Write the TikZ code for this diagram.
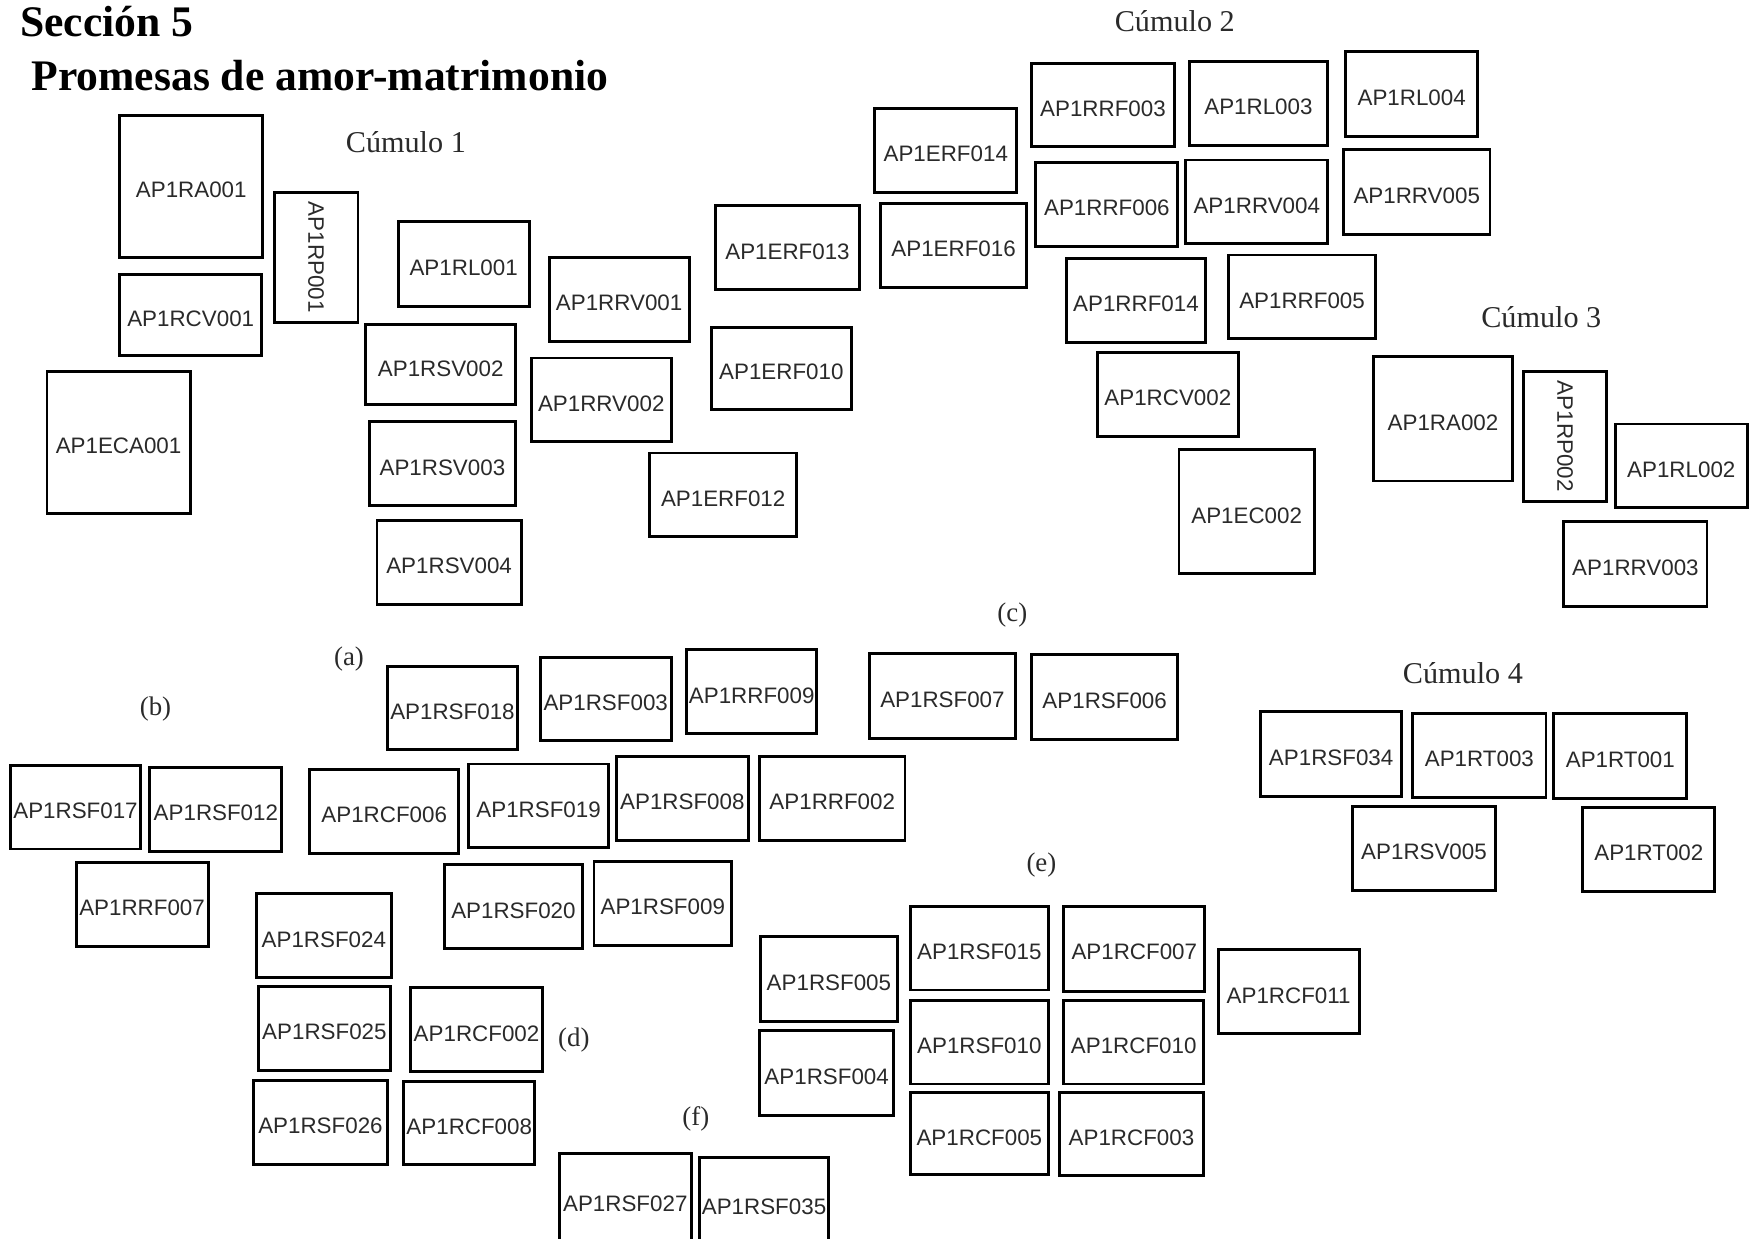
\documentclass[tikz,border=0pt]{standalone}
\usepackage{fontspec}
\usepackage{graphicx}
\setmainfont{Liberation Serif}
\newfontfamily\boxfont{Liberation Sans}
\definecolor{inkgray}{HTML}{2A2A2A}
\tikzset{
  cell/.style={draw=black, line width=2.6pt, inner sep=0pt, text=inkgray,
    font=\boxfont\fontsize{20}{22}\selectfont,
    text height=20.3pt, text depth=0pt},
  headline/.style={font=\bfseries\fontsize{39}{42}\selectfont, inner sep=0pt},
  clustername/.style={font=\fontsize{27}{30}\selectfont, text=inkgray, inner sep=0pt},
  panel/.style={font=\fontsize{24}{26}\selectfont, text=inkgray, inner sep=0pt}
}
% \cellbox{name}{x1}{y1}{x2}{y2}{label}: a labelled rectangle given by its corners
\newcommand\cellbox[6]{%
  \node[cell, minimum width={#4-#2}, minimum height={#5-#3}]
    (#1) at ({(#2+#4)/2},{(#3+#5)/2}) {#6};}
% same, with the label turned to read downwards
\newcommand\cellboxdown[6]{%
  \node[cell, text height=, text depth=, minimum width={#4-#2}, minimum height={#5-#3}]
    (#1) at ({(#2+#4)/2},{(#3+#5)/2}) {\rotatebox{-90}{#6}};}
\begin{document}
\begin{tikzpicture}[x=1pt, y=-1pt]
\useasboundingbox (0,0) rectangle (1568,1107);
\clip (0,0) rectangle (1568,1107);
\fill[white] (0,0) rectangle (1568,1107);

% headings
\node[headline, anchor=base west] (sec) at (18,33) {Sección 5};
\node[headline, anchor=base west] (tema) at (28,81) {Promesas de amor-matrimonio};

% cluster names
\node[clustername, anchor=base west] (c1) at (309,136) {Cúmulo 1};
\node[clustername, anchor=base east] (c2) at (1104,28) {Cúmulo 2};
\node[clustername, anchor=base west] (c3) at (1324,293) {Cúmulo 3};
\node[clustername, anchor=base west] (c4) at (1254,611) {Cúmulo 4};

% panel letters
\node[panel] (pa) at (312,589) {(a)};
\node[panel] (pb) at (139,634) {(b)};
\node[panel] (pc) at (905,550) {(c)};
\node[panel] (pd) at (513,930) {(d)};
\node[panel] (pe) at (931,773) {(e)};
\node[panel] (pf) at (622,1000) {(f)};

% cluster 1
\cellbox{ra1}{107}{103}{235}{230}{AP1RA001}
\cellboxdown{rp1}{245}{172}{320}{288}{AP1RP001}
\cellbox{rcv1}{107}{245}{234}{318}{AP1RCV001}
\cellbox{eca1}{42}{332}{170}{459}{AP1ECA001}
\cellbox{rl1}{356}{198}{473}{274}{AP1RL001}
\cellbox{rsv2}{327}{290}{461}{362}{AP1RSV002}
\cellbox{rsv3}{330}{377}{461}{452}{AP1RSV003}
\cellbox{rsv4}{337}{465}{466}{540}{AP1RSV004}
\cellbox{rrv1}{491}{230}{616}{305}{AP1RRV001}
\cellbox{rrv2}{475}{320}{600}{395}{AP1RRV002}
\cellbox{erf13}{640}{184}{768}{259}{AP1ERF013}
\cellbox{erf10}{636}{293}{761}{366}{AP1ERF010}
\cellbox{erf12}{581}{405}{712}{480}{AP1ERF012}

% cluster 2
\cellbox{erf14}{782}{97}{909}{172}{AP1ERF014}
\cellbox{erf16}{787}{182}{918}{257}{AP1ERF016}
\cellbox{rrf3}{922}{57}{1050}{131}{AP1RRF003}
\cellbox{rl3}{1063}{55}{1187}{130}{AP1RL003}
\cellbox{rl4}{1203}{46}{1321}{122}{AP1RL004}
\cellbox{rrf6}{926}{145}{1053}{220}{AP1RRF006}
\cellbox{rrv4}{1060}{143}{1187}{218}{AP1RRV004}
\cellbox{rrv5}{1201}{134}{1332}{210}{AP1RRV005}
\cellbox{rrf14}{953}{231}{1078}{306}{AP1RRF014}
\cellbox{rrf5}{1098}{228}{1230}{303}{AP1RRF005}
\cellbox{rcv2}{981}{315}{1107}{390}{AP1RCV002}
\cellbox{ec2}{1054}{402}{1175}{513}{AP1EC002}

% cluster 3
\cellbox{ra2}{1228}{319}{1352}{430}{AP1RA002}
\cellboxdown{rp2}{1362}{332}{1436}{448}{AP1RP002}
\cellbox{rl2}{1444}{379}{1562}{454}{AP1RL002}
\cellbox{rrv3}{1398}{466}{1526}{542}{AP1RRV003}

% lower left group
\cellbox{rsf17}{9}{684}{126}{759}{AP1RSF017}
\cellbox{rsf12}{134}{686}{252}{761}{AP1RSF012}
\cellbox{rrf7}{68}{771}{186}{846}{AP1RRF007}

% lower middle group
\cellbox{rsf18}{346}{596}{463}{670}{AP1RSF018}
\cellbox{rsf3}{483}{588}{600}{662}{AP1RSF003}
\cellbox{rrf9}{614}{581}{730}{656}{AP1RRF009}
\cellbox{rcf6}{277}{688}{410}{763}{AP1RCF006}
\cellbox{rsf19}{419}{683}{544}{758}{AP1RSF019}
\cellbox{rsf8}{551}{676}{669}{751}{AP1RSF008}
\cellbox{rrf2}{679}{676}{809}{751}{AP1RRF002}
\cellbox{rsf20}{397}{773}{521}{848}{AP1RSF020}
\cellbox{rsf9}{531}{770}{654}{845}{AP1RSF009}
\cellbox{rsf24}{229}{799}{350}{874}{AP1RSF024}
\cellbox{rsf25}{231}{882}{349}{957}{AP1RSF025}
\cellbox{rcf2}{367}{883}{485}{958}{AP1RCF002}
\cellbox{rsf26}{227}{966}{346}{1041}{AP1RSF026}
\cellbox{rcf8}{361}{967}{478}{1041}{AP1RCF008}

% pair beside (c)
\cellbox{rsf7}{777}{584}{908}{660}{AP1RSF007}
\cellbox{rsf6}{922}{585}{1053}{661}{AP1RSF006}

% cluster 4
\cellbox{rsf34}{1127}{636}{1253}{712}{AP1RSF034}
\cellbox{rt3}{1263}{638}{1382}{713}{AP1RT003}
\cellbox{rt1}{1389}{638}{1508}{714}{AP1RT001}
\cellbox{rsv5}{1209}{721}{1337}{796}{AP1RSV005}
\cellbox{rt2}{1415}{722}{1533}{797}{AP1RT002}

% lower right group
\cellbox{rsf5}{680}{837}{802}{913}{AP1RSF005}
\cellbox{rsf4}{679}{921}{799}{997}{AP1RSF004}
\cellbox{rsf15}{814}{810}{937}{885}{AP1RSF015}
\cellbox{rcf7}{951}{810}{1077}{886}{AP1RCF007}
\cellbox{rcf11}{1089}{849}{1215}{924}{AP1RCF011}
\cellbox{rsf10}{814}{894}{937}{969}{AP1RSF010}
\cellbox{rcf10}{951}{894}{1076}{969}{AP1RCF010}
\cellbox{rcf5}{814}{977}{937}{1050}{AP1RCF005}
\cellbox{rcf3}{947}{977}{1076}{1051}{AP1RCF003}

% bottom pair, running off the lower edge
\cellbox{rsf27}{500}{1031}{618}{1114}{AP1RSF027}
\cellbox{rsf35}{625}{1035}{741}{1116}{AP1RSF035}
\end{tikzpicture}
\end{document}
